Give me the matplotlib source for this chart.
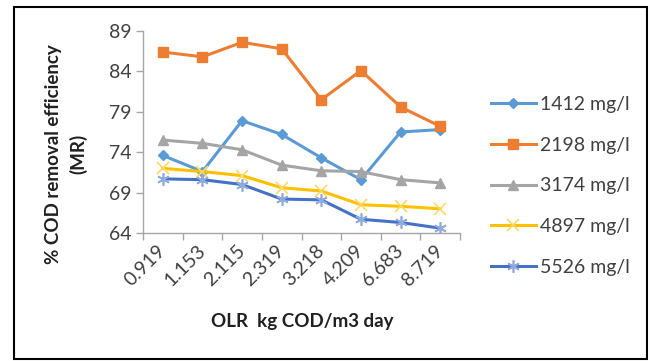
import matplotlib
matplotlib.use("Agg")
import matplotlib.pyplot as plt
from matplotlib.patches import Rectangle
import numpy as np

plt.rcParams['font.family'] = ['Lato', 'DejaVu Sans']

categories = ["0.919", "1.153", "2.115", "2.319", "3.218", "4.209", "6.683", "8.719"]
s1412 = [73.6, 71.6, 77.9, 76.2, 73.3, 70.6, 76.5, 76.8]
s2198 = [86.4, 85.8, 87.6, 86.8, 80.5, 84.1, 79.6, 77.2]
s3174 = [75.5, 75.1, 74.3, 72.4, 71.7, 71.6, 70.6, 70.2]
s4897 = [72.0, 71.6, 71.1, 69.6, 69.2, 67.5, 67.3, 67.0]
s5526 = [70.7, 70.6, 70.0, 68.2, 68.1, 65.7, 65.3, 64.6]
labels = ["1412 mg/l", "2198 mg/l", "3174 mg/l", "4897 mg/l", "5526 mg/l"]
yticks = [64, 69, 74, 79, 84, 89]

fig = plt.figure(figsize=(6.5, 3.61), dpi=100)
ax = fig.add_axes([143/650, 1-233/361, (460-143)/650, (233-31)/361])

x = np.arange(len(categories))
styles = [
    dict(color="#5B9BD5", marker="D", ms=5.5, mfc="#5B9BD5", mec="#5B9BD5"),
    dict(color="#ED7D31", marker="s", ms=6.5, mfc="#ED7D31", mec="#ED7D31"),
    dict(color="#A5A5A5", marker="^", ms=7, mfc="#A5A5A5", mec="#A5A5A5"),
    dict(color="#FFC000", marker="x", ms=8, mfc="none", mec="#FFD966", mew=1.2),
    dict(color="#4472C4", marker=(6, 2, 0), ms=9, mfc="none", mec="#8FAADC", mew=1.2),
]
for data, lab, st in zip([s1412, s2198, s3174, s4897, s5526], labels, styles):
    ax.plot(x, data, lw=2.2, label=lab, **st)

ax.set_ylim(64, 89)
ax.set_yticks(yticks)
ax.set_xlim(-0.5, len(categories) - 0.5)
ax.set_xticks(np.arange(len(categories) + 1) - 0.5)
ax.set_xticklabels([])
ax.set_xticks(x, minor=True)
ax.set_xticklabels(categories, minor=True, rotation=45, ha="right", va="center",
                   rotation_mode="anchor", fontsize=14, color="#404040")
ax.tick_params(axis="x", which="minor", length=0, pad=11)
ax.tick_params(axis="x", which="major", length=5, color="#A6A6A6", width=1)
ax.tick_params(axis="y", length=5, color="#A6A6A6", width=1, labelsize=14,
               labelcolor="#404040", pad=3)
for sp in ["top", "right"]:
    ax.spines[sp].set_visible(False)
for sp in ["left", "bottom"]:
    ax.spines[sp].set_color("#A6A6A6")
    ax.spines[sp].set_linewidth(1)

fig.text(302/650, 1-322/361, "OLR  kg COD/m3 day", ha="center", va="center",
         fontsize=13.5, fontweight="bold", color="#202020")
fig.text(66/650, 1-154/361, "% COD removal efficiency\n(MR)", ha="center", va="center",
         rotation=90, fontsize=13.5, fontweight="bold", color="#202020", linespacing=1.45)

leg = ax.legend(loc="upper left", bbox_to_anchor=(491/650, 1-96/361),
                bbox_transform=fig.transFigure, frameon=False, fontsize=14,
                labelspacing=1.22, handlelength=2.3, handletextpad=0.2,
                borderpad=0, borderaxespad=0, labelcolor="#404040")

fig.patches.append(Rectangle((14/650, 1-359/361), (647-14)/650, (359-7)/361,
                             transform=fig.transFigure, fill=False, ec="black", lw=1.5))

fig.savefig("out.png", dpi=100)
